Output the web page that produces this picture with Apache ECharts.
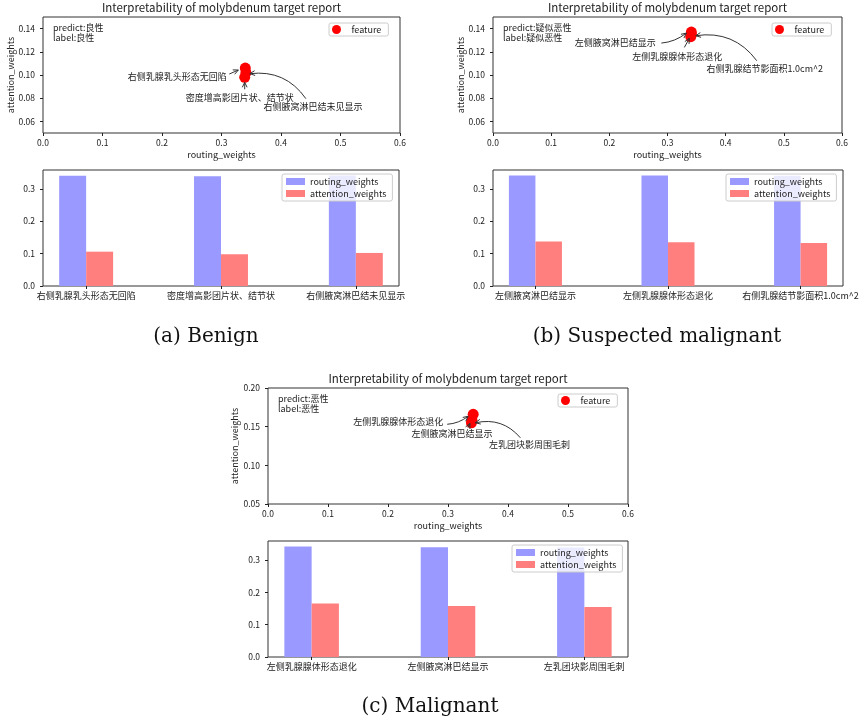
<!DOCTYPE html>
<html>
<head>
<meta charset="utf-8">
<script src="https://cdn.jsdelivr.net/npm/echarts@6/dist/echarts.min.js"></script>
<style>
  html, body { margin: 0; padding: 0; background: #fff; }
  #chart { width: 861px; height: 723px; }
</style>
</head>
<body>
<div id="chart"></div>
<script>
// ---- data -------------------------------------------------------------
const TITLE = 'Interpretability of molybdenum target report';

// (a) benign
const catsA = ['右侧乳腺乳头形态无回陷', '密度增高影团片状、结节状', '右侧腋窝淋巴结未见显示'];
const routingA = [0.340, 0.339, 0.341];
const attentionA = [0.106, 0.098, 0.102];

// (b) suspected malignant
const catsB = ['左侧腋窝淋巴结显示', '左侧乳腺腺体形态退化', '右侧乳腺结节影面积1.0cm^2'];
const routingB = [0.341, 0.341, 0.340];
const attentionB = [0.137, 0.135, 0.133];

// (c) malignant
const catsC = ['左侧乳腺腺体形态退化', '左侧腋窝淋巴结显示', '左乳团块影周围毛刺'];
const routingC = [0.342, 0.340, 0.339];
const attentionC = [0.166, 0.158, 0.155];

// tick labels
const scatterYTicksAB = [0.06, 0.08, 0.10, 0.12, 0.14];
const scatterYTicksC = [0.05, 0.10, 0.15, 0.20];
const barYTicks = [0.0, 0.1, 0.2, 0.3];

// ---- styling / layout -------------------------------------------------
const FONT = '"Noto Sans CJK SC", "Noto Sans", sans-serif';
const INK = '#222';
const BLUE = '#9999ff';
const RED = '#ff7f7f';

// annotation placement: offsets (px) from the annotated point
const notesA = [
  { i: 0, text: [-68, 9], from: [-16, 6], to: [-7, 2], rad: 0 },
  { i: 1, text: [-5, 20], from: [0, 12], to: [0, 5], rad: 0 },
  { i: 2, text: [67, 34], from: [60, 26], to: [4, 1], rad: 0.3 }
];
const notesB = [
  { i: 0, text: [-76, 10], from: [-30, 11], to: [-5, 1], rad: 0.15 },
  { i: 1, text: [-14, 22], from: [-7, 13], to: [-2, 4], rad: 0 },
  { i: 2, text: [74, 32], from: [66, 24], to: [5, -1], rad: 0.3 }
];
const notesC = [
  { i: 0, text: [-75, 7], from: [-26, 10], to: [-5, 2], rad: 0.15 },
  { i: 1, text: [-20, 13], from: [-4, 7], to: [-2, 3], rad: 0 },
  { i: 2, text: [58, 22], from: [49, 15], to: [4, 0], rad: 0.3 }
];

const panels = [
  { cats: catsA, routing: routingA, attention: attentionA, status: '良性', caption: '(a) Benign',
    scatterBox: { left: 43, top: 17, width: 357, height: 116 },
    barBox: { left: 43, top: 170, width: 356, height: 116 },
    yRange: [0.05, 0.15], yTicks: scatterYTicksAB, yDigits: 2, yNameGap: 27,
    featureLegend: [329, 23], barLegend: [282, 174], captionAt: [206, 337], notes: notesA },
  { cats: catsB, routing: routingB, attention: attentionB, status: '疑似恶性', caption: '(b) Suspected malignant',
    scatterBox: { left: 493, top: 17, width: 349, height: 116 },
    barBox: { left: 493, top: 170, width: 350, height: 116 },
    yRange: [0.05, 0.15], yTicks: scatterYTicksAB, yDigits: 2, yNameGap: 27,
    featureLegend: [772, 23], barLegend: [726, 174], captionAt: [657, 337], notes: notesB },
  { cats: catsC, routing: routingC, attention: attentionC, status: '恶性', caption: '(c) Malignant',
    scatterBox: { left: 268, top: 388, width: 360, height: 116 },
    barBox: { left: 268, top: 541, width: 360, height: 116 },
    yRange: [0.05, 0.20], yTicks: scatterYTicksC, yDigits: 2, yNameGap: 29,
    featureLegend: [558, 394], barLegend: [512, 545], captionAt: [430, 707], notes: notesC }
];

// grouped-bar geometry in bar units: groups at 0,1,2, bar width 0.2, 5% margins
const BAR_UNIT = 0.2;
const SPAN = 2.64;        // full x extent of the bar axes
const FIRST_TICK = 0.32;  // distance from left edge to first group tick
const TICK_SPAN = 2.0;    // distance from first to last group tick

const labelStyle = { color: INK, fontSize: 8.5, fontFamily: FONT };
const catLabelStyle = { color: INK, fontSize: 9, fontFamily: FONT };
const tick = { show: true, length: 3, inside: false, lineStyle: { color: INK, width: 1 } };

const grids = [], xAxes = [], yAxes = [], series = [], legends = [];
const scatterGridIdx = [];

panels.forEach((p) => {
  // --- scatter: routing vs attention ---
  const gS = grids.length;
  scatterGridIdx.push(gS);
  grids.push(Object.assign({ show: true, borderColor: '#333', borderWidth: 1,
    backgroundColor: 'transparent', containLabel: false, outerBoundsMode: 'none' }, p.scatterBox));
  xAxes.push({
    gridIndex: gS, type: 'value', min: 0, max: 0.6, interval: 0.1,
    name: 'routing_weights', nameLocation: 'middle', nameGap: 17,
    nameTextStyle: { color: INK, fontSize: 9, fontFamily: FONT },
    axisLine: { show: false }, axisTick: tick, splitLine: { show: false },
    axisLabel: Object.assign({ margin: 6, formatter: (v) => v.toFixed(1) }, labelStyle)
  });
  yAxes.push({
    gridIndex: gS, type: 'value', min: p.yRange[0], max: p.yRange[1],
    name: 'attention_weights', nameLocation: 'middle', nameGap: p.yNameGap,
    nameTextStyle: { color: INK, fontSize: 9, fontFamily: FONT },
    axisLine: { show: false }, splitLine: { show: false },
    axisTick: Object.assign({ customValues: p.yTicks }, tick),
    axisLabel: Object.assign({ margin: 8, customValues: p.yTicks,
      formatter: (v) => v.toFixed(p.yDigits) }, labelStyle)
  });
  series.push({
    type: 'scatter', name: 'feature', xAxisIndex: gS, yAxisIndex: gS,
    data: p.routing.map((r, i) => [r, p.attention[i]]),
    symbol: 'circle', symbolSize: 11, itemStyle: { color: '#ff0000', opacity: 1 },
    z: 3, silent: true
  });
  legends.push({
    left: p.featureLegend[0], top: p.featureLegend[1], data: ['feature'],
    icon: 'circle', itemWidth: 20, itemHeight: 9, padding: [2, 7, 2, 3],
    backgroundColor: 'rgba(255,255,255,0.8)', borderColor: '#cccccc', borderWidth: 1, borderRadius: 2,
    textStyle: { color: INK, fontSize: 9, fontFamily: FONT }, selectedMode: false
  });

  // --- grouped bars: frame + value axis ---
  const barMax = Math.max(...p.routing, ...p.attention) * 1.05;
  const gF = grids.length;
  grids.push(Object.assign({ show: true, borderColor: '#333', borderWidth: 1,
    backgroundColor: 'transparent', containLabel: false, outerBoundsMode: 'none' }, p.barBox));
  xAxes.push({ gridIndex: gF, type: 'value', min: 0, max: 1, show: false });
  yAxes.push({
    gridIndex: gF, type: 'value', min: 0, max: barMax,
    axisLine: { show: false }, splitLine: { show: false },
    axisTick: Object.assign({ customValues: barYTicks }, tick),
    axisLabel: Object.assign({ margin: 8, customValues: barYTicks, formatter: (v) => v.toFixed(1) }, labelStyle)
  });

  // --- grouped bars: category band spanning the group ticks ---
  const b = p.barBox;
  const inner = {
    left: b.left + b.width * FIRST_TICK / SPAN,
    width: b.width * TICK_SPAN / SPAN,
    top: b.top, height: b.height
  };
  const barPx = b.width * BAR_UNIT / SPAN;
  const gB = grids.length;
  grids.push(Object.assign({ show: false, containLabel: false, outerBoundsMode: 'none' }, inner));
  xAxes.push({
    gridIndex: gB, type: 'category', data: p.cats, boundaryGap: false,
    axisLine: { show: false }, axisTick: tick, splitLine: { show: false },
    axisLabel: Object.assign({ interval: 0, margin: 5 }, catLabelStyle)
  });
  yAxes.push({ gridIndex: gB, type: 'value', min: 0, max: barMax, show: false });
  series.push({
    type: 'bar', name: 'routing_weights', xAxisIndex: gB, yAxisIndex: gB,
    data: p.routing, barWidth: barPx, barGap: '0%', clip: false,
    itemStyle: { color: BLUE }, silent: true
  });
  series.push({
    type: 'bar', name: 'attention_weights', xAxisIndex: gB, yAxisIndex: gB,
    data: p.attention, barWidth: barPx, barGap: '0%', clip: false,
    itemStyle: { color: RED }, silent: true
  });
  legends.push({
    left: p.barLegend[0], top: p.barLegend[1], orient: 'vertical',
    data: ['routing_weights', 'attention_weights'],
    icon: 'rect', itemWidth: 19, itemHeight: 7, itemGap: 3, padding: [3, 6, 3, 4],
    backgroundColor: 'rgba(255,255,255,0.8)', borderColor: '#cccccc', borderWidth: 1, borderRadius: 2,
    textStyle: { color: INK, fontSize: 9, fontFamily: FONT }, selectedMode: false
  });
});

const chart = echarts.init(document.getElementById('chart'), null, { renderer: 'canvas', width: 861, height: 723 });
chart.setOption({
  animation: false,
  backgroundColor: '#ffffff',
  grid: grids, xAxis: xAxes, yAxis: yAxes, series: series, legend: legends
});

// ---- titles, captions, status text and arrow annotations ----------------
function arrowEls(S, E, rad) {
  const els = [];
  let dirFrom = S;
  if (rad) {
    const mx = (S[0] + E[0]) / 2, my = (S[1] + E[1]) / 2;
    const dx = E[0] - S[0], dy = E[1] - S[1];
    const C = [mx - rad * dy, my + rad * dx];
    dirFrom = C;
    els.push({ type: 'bezierCurve', z: 20, silent: true,
      shape: { x1: S[0], y1: S[1], x2: E[0], y2: E[1], cpx1: C[0], cpy1: C[1] },
      style: { stroke: '#333', lineWidth: 1, fill: null } });
  } else {
    els.push({ type: 'line', z: 20, silent: true,
      shape: { x1: S[0], y1: S[1], x2: E[0], y2: E[1] },
      style: { stroke: '#333', lineWidth: 1 } });
  }
  let ux = E[0] - dirFrom[0], uy = E[1] - dirFrom[1];
  const len = Math.hypot(ux, uy) || 1;
  ux /= len; uy /= len;
  const L = 5, W = 2.4;
  els.push({ type: 'polyline', z: 20, silent: true,
    shape: { points: [
      [E[0] - L * ux - W * uy, E[1] - L * uy + W * ux],
      [E[0], E[1]],
      [E[0] - L * ux + W * uy, E[1] - L * uy - W * ux]
    ] },
    style: { stroke: '#333', lineWidth: 1, fill: null } });
  return els;
}

const graphics = [];
panels.forEach((p, k) => {
  const sb = p.scatterBox;
  graphics.push({ type: 'text', silent: true, z: 20,
    style: { text: TITLE, x: sb.left + sb.width / 2, y: sb.top - 9,
      textAlign: 'center', textVerticalAlign: 'middle', fill: INK, font: '11.5px ' + FONT } });
  graphics.push({ type: 'text', silent: true, z: 20,
    style: { text: 'predict:' + p.status, x: sb.left + 10, y: sb.top + 11,
      textAlign: 'left', textVerticalAlign: 'middle', fill: INK, font: '9px ' + FONT } });
  graphics.push({ type: 'text', silent: true, z: 20,
    style: { text: 'label:' + p.status, x: sb.left + 10, y: sb.top + 20.5,
      textAlign: 'left', textVerticalAlign: 'middle', fill: INK, font: '9px ' + FONT } });
  graphics.push({ type: 'text', silent: true, z: 20,
    style: { text: p.caption, x: p.captionAt[0], y: p.captionAt[1],
      textAlign: 'center', textVerticalAlign: 'middle', fill: '#111', font: '20px "DejaVu Serif", serif' } });

  const g = scatterGridIdx[k];
  p.notes.forEach((n) => {
    const P = chart.convertToPixel({ gridIndex: g }, [p.routing[n.i], p.attention[n.i]]);
    graphics.push({ type: 'text', silent: true, z: 20,
      style: { text: p.cats[n.i], x: P[0] + n.text[0], y: P[1] + n.text[1],
        textAlign: 'center', textVerticalAlign: 'middle', fill: INK, font: '9px ' + FONT } });
    const S = [P[0] + n.from[0], P[1] + n.from[1]];
    const E = [P[0] + n.to[0], P[1] + n.to[1]];
    arrowEls(S, E, n.rad).forEach((el) => graphics.push(el));
  });
});

chart.setOption({ graphic: graphics });
</script>
</body>
</html>
